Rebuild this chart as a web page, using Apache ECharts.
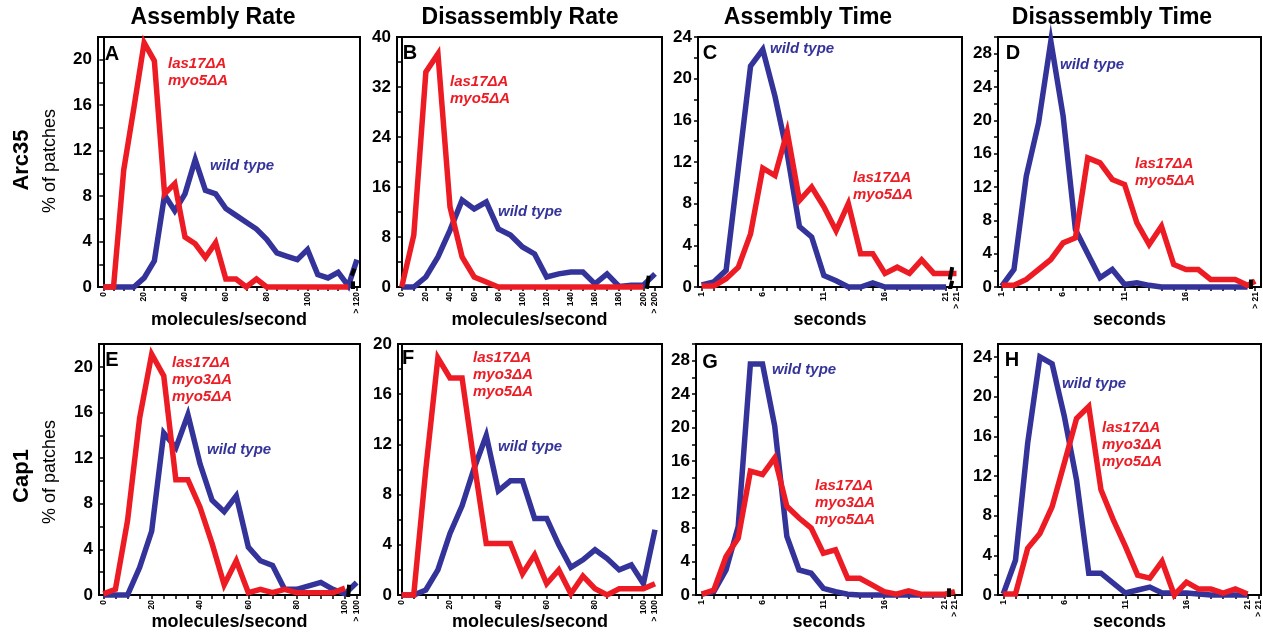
<!DOCTYPE html>
<html>
<head>
<meta charset="utf-8">
<script src="https://cdn.jsdelivr.net/npm/echarts@6/dist/echarts.min.js"></script>
<style>
    html, body { margin: 0; padding: 0; background: #fff; }
    #main { width: 1263px; height: 634px; }
</style>
</head>
<body>
<div id="main"></div>
<script>
const FONT = '"Liberation Sans", Arial, Helvetica, sans-serif';
const BLUE = '#33339a';
const RED = '#ed1c24';

// ---- x categories ----
const rateX5_120 = [0,5,10,15,20,25,30,35,40,45,50,55,60,65,70,75,80,85,90,95,100,105,110,115,120];
const rateX10_200 = [0,10,20,30,40,50,60,70,80,90,100,110,120,130,140,150,160,170,180,190,200];
const rateX5_100 = [0,5,10,15,20,25,30,35,40,45,50,55,60,65,70,75,80,85,90,95,100];
const secX = [1,2,3,4,5,6,7,8,9,10,11,12,13,14,15,16,17,18,19,20,21];

// ---- tick labels ----
const labels120 = [0,20,40,60,80,100,120];
const labels200 = [0,20,40,60,80,100,120,140,160,180,200];
const labels100 = [0,20,40,60,80,100];
const labelsSec = [1,6,11,16,21];

// ---- A: Arc35 assembly rate ----
const A_wt  = [0,0,0,0,0.8,2.3,8.1,6.7,8.2,11.2,8.5,8.2,6.9,6.3,5.7,5.1,4.2,3.0,2.7,2.4,3.3,1.1,0.8,1.3,0.1];
const A_wt_over = 2.4;
const A_mut = [0,0,10.3,15.8,21.5,19.9,8.2,9.1,4.4,3.8,2.6,3.9,0.7,0.7,0,0.7,0,0,0,0,0,0,0,0,0];
const A_mut_over = null;

// ---- B: Arc35 disassembly rate ----
const B_wt  = [0,0,1.6,4.8,9.1,13.9,12.5,13.6,9.3,8.3,6.4,5.3,1.6,2.1,2.4,2.4,0.5,2.1,0.1,0.3,0.3];
const B_wt_over = 2.1;
const B_mut = [0,8.3,34.4,37.3,12.8,4.8,1.6,0.8,0,0,0,0,0,0,0,0,0,0,0,0,0];
const B_mut_over = null;

// ---- C: Arc35 assembly time ----
const C_wt  = [0.2,0.5,1.6,11.4,21.2,22.8,18.3,12.8,5.8,4.8,1.1,0.6,0,0,0.4,0,0,0,0,0,0];
const C_wt_over = null;
const C_mut = [0.1,0.1,0.8,1.9,5.1,11.4,10.7,14.9,8.3,9.6,7.7,5.4,8.0,3.2,3.2,1.3,1.9,1.3,2.6,1.3,1.3];
const C_mut_over = 1.3;

// ---- D: Arc35 disassembly time ----
const D_wt  = [0.1,2.1,13.3,19.7,29.5,20.5,6.9,4.0,1.1,2.1,0.3,0.5,0.2,0,0,0,0,0,0,0,0];
const D_wt_over = null;
const D_mut = [0.2,0.2,0.9,2.1,3.3,5.3,5.9,15.5,14.9,12.9,12.3,7.7,5.1,7.3,2.7,2.1,2.1,0.9,0.9,0.9,0.2];
const D_mut_over = 0.7;

// ---- E: Cap1 assembly rate ----
const E_wt  = [0,0,0,2.4,5.6,14.2,12.9,15.8,11.5,8.3,7.3,8.7,4.2,3.0,2.6,0.5,0.5,0.8,1.1,0.5,0.1];
const E_wt_over = 1.1;
const E_mut = [0.1,0.5,6.5,15.5,21.1,19.2,10.1,10.1,7.7,4.5,0.9,3.0,0.2,0.5,0.2,0.5,0.2,0.2,0.2,0.2,0.6];
const E_mut_over = null;

// ---- F: Cap1 disassembly rate ----
const F_wt  = [0,0,0.4,2.0,4.9,7.1,10.1,12.7,8.3,9.1,9.1,6.1,6.1,4.0,2.2,2.8,3.6,2.9,2.0,2.4,0.9];
const F_wt_over = 5.2;
const F_mut = [0,0,10,18.9,17.3,17.3,10.5,4.1,4.1,4.1,1.7,3.2,0.9,2.0,0.1,1.5,0.5,0,0.5,0.5,0.5];
const F_mut_over = 0.9;

// ---- G: Cap1 assembly time ----
const G_wt  = [0.1,0.4,3.0,8.2,27.6,27.6,20.2,7.0,3.0,2.6,0.8,0.4,0.1,0,0,0,0,0,0,0,0];
const G_wt_over = null;
const G_mut = [0.1,0.6,4.6,6.8,14.8,14.4,16.4,10.6,9.2,8.0,5.0,5.4,2.0,2.0,1.2,0.4,0.1,0.5,0.1,0.1,0.1];
const G_mut_over = 0.4;

// ---- H: Cap1 disassembly time ----
const H_wt  = [0.1,3.5,15.3,24.0,23.3,18.0,11.6,2.2,2.2,1.2,0.2,0.5,0.8,0.2,0.2,0.2,0.1,0,0,0,0];
const H_wt_over = null;
const H_mut = [0.1,0.1,4.7,6.2,8.9,13.3,17.8,19.0,10.6,7.6,4.9,2.0,1.7,3.4,0,1.3,0.6,0.6,0.2,0.6,0.1];
const H_mut_over = null;

// axis-break marks (x, y pairs in data units)
const A_breaks = [[[121.6,1.0],[123.0,1.6]], [[122.3,-0.3],[122.3,0.5]]];
const B_breaks = [[[203,-0.3],[204.5,1.8]]];
const C_breaks = [[[21.3,0.7],[21.5,1.9]], [[21.3,-0.3],[21.5,0.6]]];
const D_breaks = [[[21.25,-0.3],[21.25,0.9]]];
const E_breaks = [[[101.3,-0.2],[101.7,0.9]]];
const G_breaks = [[[21.3,-0.3],[21.3,0.8]]];

function steps(a, b, s) {
    let out = [];
    for (let v = a; v <= b + 1e-9; v += s) out.push(v);
    return out;
}

// layout of each panel
const panels = [
    {rect: [98, 37, 262, 250], x: rateX5_120, wt: A_wt, wtOver: A_wt_over, mut: A_mut, mutOver: A_mut_over,
     xr: [-2.6, 125.7], over: 124.2, overLabel: '> 120', xLabels: labels120, xTicks: rateX5_120,
     yMax: 22, yLab: 4, yTick: 2, xName: 'molecules/second', nameGap: 24, breaks: A_breaks},
    {rect: [397, 37, 265, 250], x: rateX10_200, wt: B_wt, wtOver: B_wt_over, mut: B_mut, mutOver: B_mut_over,
     xr: [-3.9, 215.5], over: 209.7, overLabel: '> 200', xLabels: labels200, xTicks: rateX10_200,
     yMax: 40, yLab: 8, yTick: 4, xName: 'molecules/second', nameGap: 24, breaks: B_breaks},
    {rect: [698, 37, 264, 250], x: secX, wt: C_wt, wtOver: C_wt_over, mut: C_mut, mutOver: C_mut_over,
     xr: [0.7, 22.3], over: 21.85, overLabel: '> 21', xLabels: labelsSec, xTicks: secX,
     yMax: 24, yLab: 4, yTick: 2, xName: 'seconds', nameGap: 24, breaks: C_breaks},
    {rect: [998, 37, 263, 250], x: secX, wt: D_wt, wtOver: D_wt_over, mut: D_mut, mutOver: D_mut_over,
     xr: [0.7, 22.1], over: 21.63, overLabel: '> 21', xLabels: labelsSec, xTicks: secX,
     yMax: 30, yLab: 4, yTick: 2, xName: 'seconds', nameGap: 24, breaks: D_breaks},
    {rect: [99, 344, 261, 251], x: rateX5_100, wt: E_wt, wtOver: E_wt_over, mut: E_mut, mutOver: E_mut_over,
     xr: [-1.8, 106.2], over: 104.8, overLabel: '> 100', xLabels: labels100, xTicks: rateX5_100,
     yMax: 22, yLab: 4, yTick: 2, xName: 'molecules/second', nameGap: 18, breaks: E_breaks},
    {rect: [398, 344, 264, 251], x: rateX5_100, wt: F_wt, wtOver: F_wt_over, mut: F_mut, mutOver: F_mut_over,
     xr: [-1.5, 107.7], over: 104.8, overLabel: '> 100', xLabels: labels100, xTicks: rateX5_100,
     yMax: 20, yLab: 4, yTick: 2, xName: 'molecules/second', nameGap: 18, breaks: []},
    {rect: [696, 344, 266, 251], x: secX, wt: G_wt, wtOver: G_wt_over, mut: G_mut, mutOver: G_mut_over,
     xr: [0.53, 22.4], over: 21.82, overLabel: '> 21', xLabels: labelsSec, xTicks: secX,
     yMax: 30, yLab: 4, yTick: 2, xName: 'seconds', nameGap: 18, breaks: G_breaks},
    {rect: [998, 344, 263, 251], x: secX, wt: H_wt, wtOver: H_wt_over, mut: H_mut, mutOver: H_mut_over,
     xr: [0.57, 22.1], over: 21.9, overLabel: '> 21', xLabels: labelsSec, xTicks: secX,
     yMax: 25.3, yLab: 4, yTick: 2, xName: 'seconds', nameGap: 18, breaks: []}
];

function pairs(xs, ys, over, overVal) {
    let d = xs.map((x, i) => [x, ys[i]]);
    if (overVal != null) d.push([over, overVal]);
    return d;
}

let grids = [], xAxes = [], yAxes = [], series = [];
panels.forEach(function (p, i) {
    grids.push({
        left: p.rect[0], top: p.rect[1], width: p.rect[2], height: p.rect[3],
        outerBoundsMode: 'none', containLabel: false,
        show: true, borderColor: '#000', borderWidth: 2, backgroundColor: 'transparent'
    });
    xAxes.push({
        type: 'value', gridIndex: i, min: p.xr[0], max: p.xr[1],
        name: p.xName, nameLocation: 'middle', nameGap: p.nameGap, nameMoveOverlap: false,
        nameTextStyle: {fontFamily: FONT, fontSize: 18, fontWeight: 'bold', color: '#000'},
        axisLine: {onZero: false, lineStyle: {color: '#000', width: 2}},
        axisTick: {customValues: p.xTicks.concat([p.over]), length: 4, lineStyle: {color: '#000', width: 1.5}},
        axisLabel: {
            customValues: p.xLabels.concat([p.over]), rotate: 90, margin: 5,
            hideOverlap: false, showMinLabel: true, showMaxLabel: true,
            fontFamily: FONT, fontSize: 8.5, fontWeight: 'bold', color: '#000',
            formatter: function (v) { return Math.abs(v - p.over) < 1e-6 ? p.overLabel : String(v); }
        },
        splitLine: {show: false}
    });
    yAxes.push({
        type: 'value', gridIndex: i, min: 0, max: p.yMax,
        axisLine: {show: true, lineStyle: {color: '#000', width: 2}},
        axisTick: {customValues: steps(0, p.yMax, p.yTick), length: 4, lineStyle: {color: '#000', width: 1.5}},
        axisLabel: {
            customValues: steps(0, p.yMax, p.yLab), margin: 6,
            fontFamily: FONT, fontSize: 17, fontWeight: 'bold', color: '#000'
        },
        splitLine: {show: false}
    });
    series.push({
        type: 'line', xAxisIndex: i, yAxisIndex: i, symbol: 'none', clip: false,
        data: pairs(p.x, p.wt, p.over, p.wtOver),
        lineStyle: {color: BLUE, width: 5.5, join: 'miter'}, z: 3
    });
    series.push({
        type: 'line', xAxisIndex: i, yAxisIndex: i, symbol: 'none', clip: false,
        data: pairs(p.x, p.mut, p.over, p.mutOver),
        lineStyle: {color: RED, width: 5.5, join: 'miter'}, z: 4
    });
    if (p.breaks.length) {
        series.push({
            type: 'lines', coordinateSystem: 'cartesian2d', xAxisIndex: i, yAxisIndex: i,
            data: p.breaks.map(c => ({coords: c})),
            lineStyle: {color: '#000', width: 4, opacity: 1, curveness: 0}, z: 5
        });
    }
});

// texts placed on the page
function txt(t, x, y, font, color, extra) {
    return Object.assign({
        type: 'text', x: x, y: y, z: 10,
        style: {text: t, font: font, fill: color, align: 'center', verticalAlign: 'middle', lineHeight: 17}
    }, extra || {});
}
function note(t, x, y, color) {
    return {
        type: 'text', x: x, y: y, z: 10,
        style: {text: t, font: 'italic bold 15px ' + FONT, fill: color, align: 'left', verticalAlign: 'middle', lineHeight: 17}
    };
}
const titleFont = 'bold 23px ' + FONT;
const letterFont = 'bold 20px ' + FONT;
const rowFont = 'bold 22px ' + FONT;
const yNameFont = '18px ' + FONT;

const graphics = [
    txt('Assembly Rate', 213, 18, titleFont, '#000'),
    txt('Disassembly Rate', 520, 18, titleFont, '#000'),
    txt('Assembly Time', 808, 18, titleFont, '#000'),
    txt('Disassembly Time', 1112, 18, titleFont, '#000'),
    txt('Arc35', 22, 160, rowFont, '#000', {rotation: Math.PI / 2}),
    txt('% of patches', 50, 161, yNameFont, '#000', {rotation: Math.PI / 2}),
    txt('Cap1', 22, 476, rowFont, '#000', {rotation: Math.PI / 2}),
    txt('% of patches', 50, 472, yNameFont, '#000', {rotation: Math.PI / 2}),
    txt('A', 112, 54, letterFont, '#000'),
    txt('B', 410, 53, letterFont, '#000'),
    txt('C', 710, 53, letterFont, '#000'),
    txt('D', 1013, 53, letterFont, '#000'),
    txt('E', 112, 360, letterFont, '#000'),
    txt('F', 408, 358, letterFont, '#000'),
    txt('G', 710, 362, letterFont, '#000'),
    txt('H', 1012, 360, letterFont, '#000'),
    note('las17ΔA\nmyo5ΔA', 168, 72, RED),
    note('wild type', 210, 166, BLUE),
    note('las17ΔA\nmyo5ΔA', 450, 90, RED),
    note('wild type', 498, 212, BLUE),
    note('wild type', 770, 49, BLUE),
    note('las17ΔA\nmyo5ΔA', 853, 186, RED),
    note('wild type', 1060, 65, BLUE),
    note('las17ΔA\nmyo5ΔA', 1135, 172, RED),
    note('las17ΔA\nmyo3ΔA\nmyo5ΔA', 172, 380, RED),
    note('wild type', 207, 450, BLUE),
    note('las17ΔA\nmyo3ΔA\nmyo5ΔA', 473, 375, RED),
    note('wild type', 498, 447, BLUE),
    note('wild type', 772, 370, BLUE),
    note('las17ΔA\nmyo3ΔA\nmyo5ΔA', 815, 503, RED),
    note('wild type', 1062, 384, BLUE),
    note('las17ΔA\nmyo3ΔA\nmyo5ΔA', 1102, 445, RED)
];

const chart = echarts.init(document.getElementById('main'));
chart.setOption({
    animation: false,
    backgroundColor: '#fff',
    grid: grids,
    xAxis: xAxes,
    yAxis: yAxes,
    series: series,
    graphic: graphics
});
</script>
</body>
</html>
